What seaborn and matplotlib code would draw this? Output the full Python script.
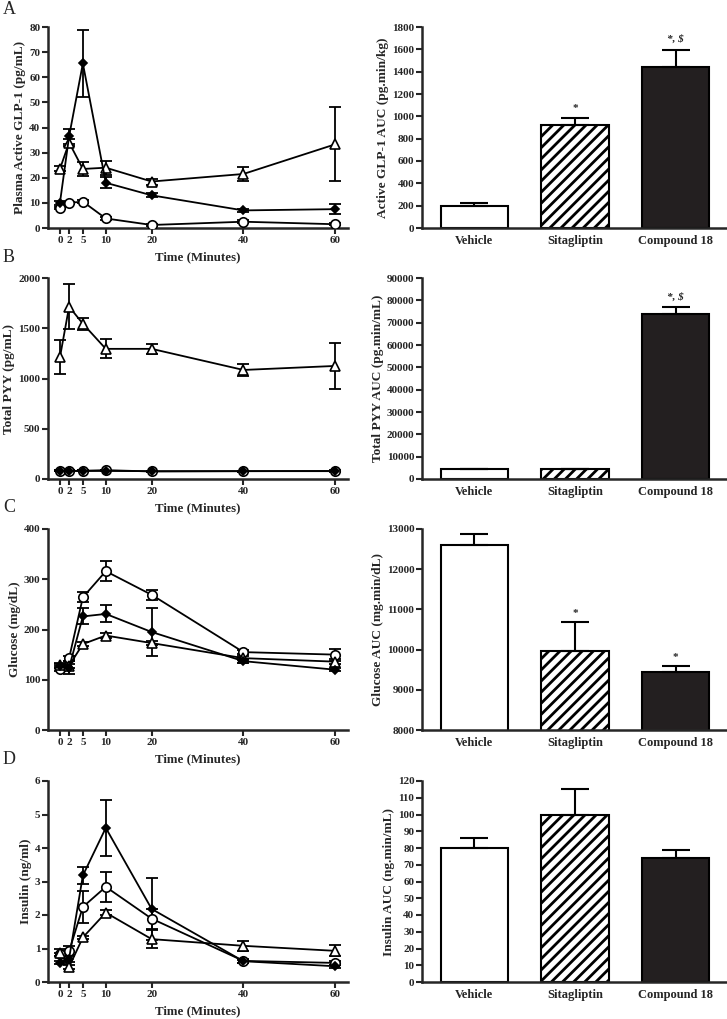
import numpy as np
import pandas as pd
import matplotlib
matplotlib.use('Agg')
import matplotlib.pyplot as plt
import seaborn as sns

sns.set_style('white')
plt.rcParams['font.family'] = ['Liberation Serif', 'DejaVu Serif']
plt.rcParams['font.weight'] = 'bold'
plt.rcParams['hatch.linewidth'] = 2.0

### dados

times = [0, 2, 5, 10, 20, 40, 60]
groups = ['Vehicle', 'Sitagliptin', 'Compound 18']

glp_veh = [8, 10, 10.5, 3.8, 1.2, 2.5, 1.5]
glp_veh_err = [0.5, 0.5, 0.6, 0.5, 0.3, 0.5, 0.4]
glp_sita = [10, 36.5, 65.5, 18, 13, 7, 7.5]
glp_sita_err = [0.8, 3, 13.5, 2.2, 0.8, 0.6, 2]
glp_cmpd = [23.5, 34, 23.5, 24, 18.5, 21.5, 33.3]
glp_cmpd_err = [1, 1.5, 2.7, 2.8, 1.2, 2.7, 14.7]

pyy_veh = [80, 80, 82, 88, 75, 78, 80]
pyy_veh_err = [5, 5, 5, 5, 5, 5, 5]
pyy_sita = [80, 80, 80, 80, 78, 78, 78]
pyy_sita_err = [5, 5, 5, 5, 5, 5, 5]
pyy_cmpd = [1210, 1715, 1545, 1295, 1295, 1085, 1125]
pyy_cmpd_err = [170, 225, 60, 95, 50, 60, 227]

glu_veh = [121, 143, 264, 316, 269, 155, 150]
glu_veh_err = [3, 5, 10, 20, 10, 4, 12]
glu_sita = [128, 124, 226, 231, 195, 137, 120]
glu_sita_err = [4, 13, 16, 17, 47, 4, 3]
glu_cmpd = [130, 128, 171, 188, 173, 143, 136]
glu_cmpd_err = [3, 4, 4, 5, 4, 4, 5]

ins_veh = [0.83, 0.92, 2.24, 2.84, 1.89, 0.63, 0.57]
ins_veh_err = [0.05, 0.15, 0.48, 0.45, 0.3, 0.05, 0.05]
ins_sita = [0.58, 0.70, 3.18, 4.60, 2.18, 0.62, 0.47]
ins_sita_err = [0.05, 0.1, 0.25, 0.83, 0.93, 0.05, 0.05]
ins_cmpd = [0.88, 0.45, 1.33, 2.07, 1.28, 1.08, 0.93]
ins_cmpd_err = [0.1, 0.05, 0.05, 0.07, 0.26, 0.15, 0.16]

glp_auc = [195, 920, 1440]
glp_auc_err = [30, 65, 155]
pyy_auc = [4650, 4700, 74000]
pyy_auc_err = [0, 0, 2800]
glu_auc = [12600, 9960, 9440]
glu_auc_err = [270, 730, 160]
ins_auc = [80, 100, 74]
ins_auc_err = [6, 15, 4.7]

W, H = 727, 1019
fig = plt.figure(figsize=(W / 100, H / 100), dpi=100)


def eixo(x0, x1, ytop, ybot):
    return fig.add_axes([x0 / W, 1 - ybot / H, (x1 - x0) / W, (ybot - ytop) / H])


def estilo(ax):
    sns.despine(ax=ax)
    for s in ['left', 'bottom']:
        ax.spines[s].set_linewidth(1.8)
    ax.tick_params(direction='out', length=4, width=1.5, labelsize=8, pad=1.5,
                   left=True, bottom=True)
    for lab in ax.get_xticklabels() + ax.get_yticklabels():
        lab.set_fontweight('bold')


def plot_tempo(ax, series, ylim, ystep, ylabel):
    marcas = {'o': dict(marker='o', mfc='white', ms=6.8),
              '^': dict(marker='^', mfc='white', ms=7),
              'D': dict(marker='D', mfc='black', ms=4.5)}
    for vals, errs, m in series:
        ax.errorbar(times, vals, yerr=errs, fmt='none', ecolor='black',
                    elinewidth=1.3, capsize=4, capthick=1.3, zorder=2)
        sns.lineplot(x=times, y=vals, ax=ax, color='black', linewidth=1.3,
                     markeredgecolor='black', markeredgewidth=1.2, zorder=3,
                     marker=marcas[m]['marker'],
                     markerfacecolor=marcas[m]['mfc'],
                     markersize=marcas[m]['ms'])
    ax.set_xlim(-2.6, 62.8)
    ax.set_ylim(*ylim)
    ax.set_xticks(times)
    ax.set_yticks(np.arange(ylim[0], ylim[1] + ystep / 2, ystep))
    ax.set_xlabel('Time (Minutes)', fontsize=9.3, fontweight='bold', labelpad=5)
    ax.set_ylabel(ylabel, fontsize=9.6, fontweight='bold', labelpad=2)
    estilo(ax)


def plot_auc(ax, vals, errs, ylim, ystep, ylabel, notas=None):
    df = pd.DataFrame({'grupo': groups, 'valor': vals})
    sns.barplot(data=df, x='grupo', y='valor', order=groups, ax=ax,
                color='white', edgecolor='black', linewidth=1.5, width=0.67,
                errorbar=None, saturation=1)
    cores = ['white', 'white', '#231f20']
    hatches = ['', '///', '']
    for p, c, h in zip(ax.patches, cores, hatches):
        p.set_facecolor(c)
        p.set_hatch(h)
        p.set_edgecolor('black')
    ax.errorbar(range(3), vals, yerr=[np.zeros(3), errs], fmt='none',
                ecolor='black', elinewidth=1.5, capsize=10, capthick=1.5)
    ax.set_xlim(-0.52, 2.51)
    ax.set_ylim(*ylim)
    ax.set_yticks(np.arange(ylim[0], ylim[1] + ystep / 2, ystep))
    ax.set_xlabel('')
    ax.set_ylabel(ylabel, fontsize=9.6, fontweight='bold', labelpad=2)
    estilo(ax)
    ax.tick_params(axis='x', length=0, labelsize=9, pad=5)
    if notas:
        for i, txt, y in notas:
            ax.text(i, y, txt, ha='center', va='bottom', fontsize=8,
                    fontweight='bold', style='italic' if '$' in txt else 'normal')


LX0, LX1 = 48, 348
RX0, RX1 = 422, 727
linhas = [(27, 228), (278, 479), (529, 730), (781, 982)]

ax = eixo(LX0, LX1, *linhas[0])
plot_tempo(ax, [(glp_veh, glp_veh_err, 'o'), (glp_cmpd, glp_cmpd_err, '^'),
                (glp_sita, glp_sita_err, 'D')], (0, 80), 10,
           'Plasma Active GLP-1 (pg/mL)')
ax = eixo(RX0, RX1, *linhas[0])
plot_auc(ax, glp_auc, glp_auc_err, (0, 1800), 200, 'Active GLP-1 AUC (pg.min/kg)',
         [(1, '*', 1030), (2, '*, $', 1650)])

ax = eixo(LX0, LX1, *linhas[1])
plot_tempo(ax, [(pyy_cmpd, pyy_cmpd_err, '^'), (pyy_veh, pyy_veh_err, 'o'),
                (pyy_sita, pyy_sita_err, 'D')], (0, 2000), 500,
           'Total PYY (pg/mL)')
ax = eixo(RX0, RX1, *linhas[1])
plot_auc(ax, pyy_auc, pyy_auc_err, (0, 90000), 10000, 'Total PYY AUC (pg.min/mL)',
         [(2, '*, $', 79500)])

ax = eixo(LX0, LX1, *linhas[2])
plot_tempo(ax, [(glu_veh, glu_veh_err, 'o'), (glu_cmpd, glu_cmpd_err, '^'),
                (glu_sita, glu_sita_err, 'D')], (0, 400), 100,
           'Glucose (mg/dL)')
ax = eixo(RX0, RX1, *linhas[2])
plot_auc(ax, glu_auc, glu_auc_err, (8000, 13000), 1000, 'Glucose AUC (mg.min/dL)',
         [(1, '*', 10780), (2, '*', 9690)])

ax = eixo(LX0, LX1, *linhas[3])
plot_tempo(ax, [(ins_veh, ins_veh_err, 'o'), (ins_cmpd, ins_cmpd_err, '^'),
                (ins_sita, ins_sita_err, 'D')], (0, 6), 1,
           'Insulin (ng/ml)')
ax = eixo(RX0, RX1, *linhas[3])
plot_auc(ax, ins_auc, ins_auc_err, (0, 120), 10, 'Insulin AUC (ng.min/mL)')

for letra, y in zip('ABCD', [9, 257, 508, 760]):
    fig.text(3 / W, 1 - y / H, letra, fontsize=13, fontweight='normal',
             ha='left', va='center')

fig.savefig('out.png', dpi=100)
